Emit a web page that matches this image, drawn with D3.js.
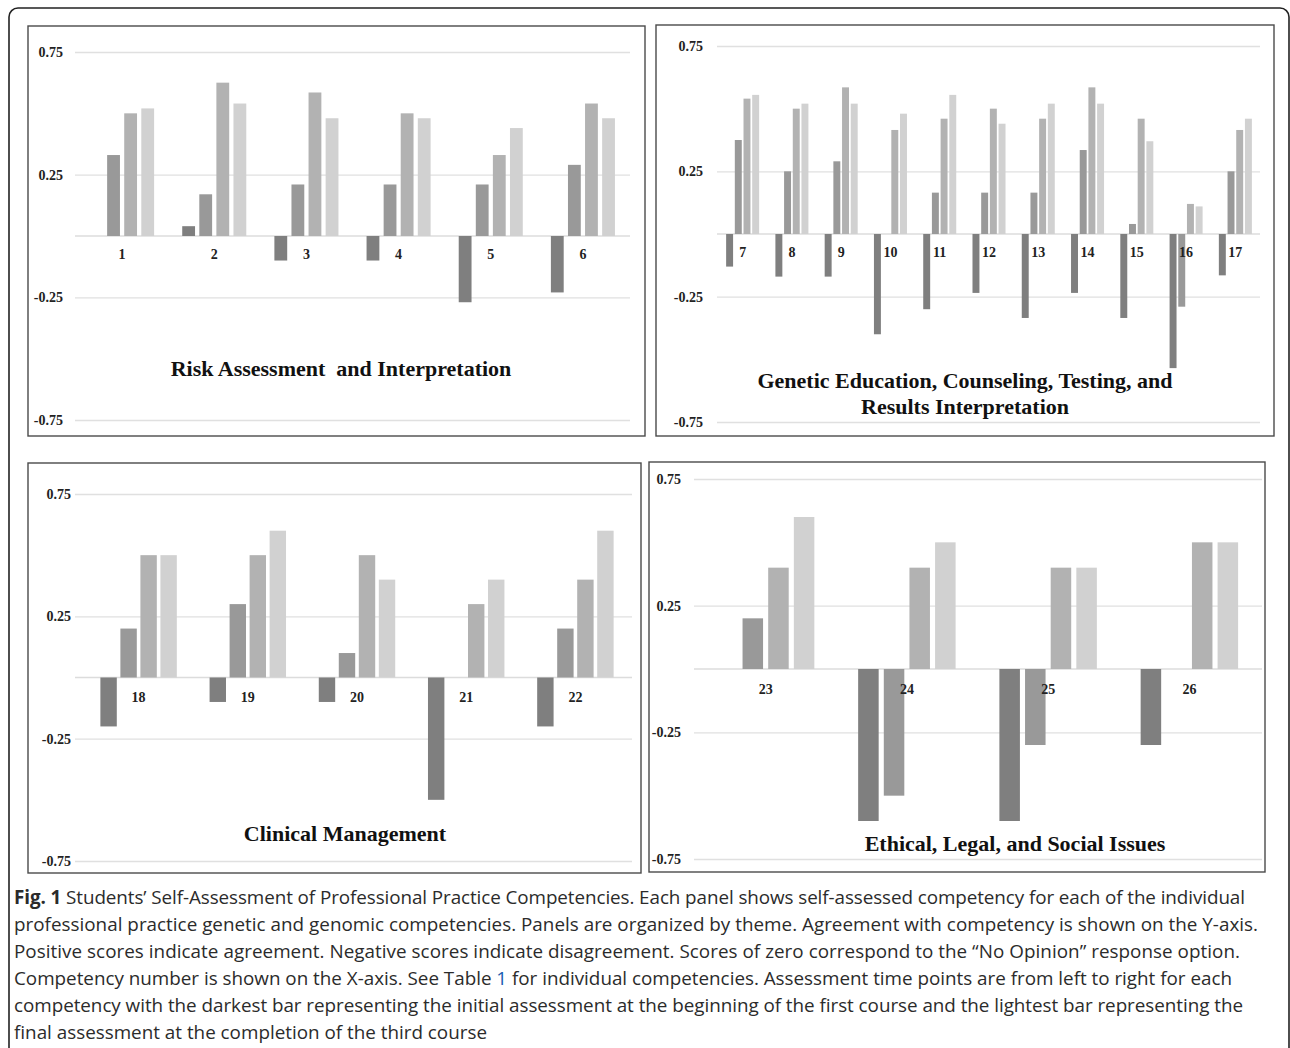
<!DOCTYPE html>
<html>
<head>
<meta charset="utf-8">
<script src="https://cdn.jsdelivr.net/npm/d3@7"></script>
<style>
  html, body { margin: 0; padding: 0; background: #fff; }
  svg { display: block; }
</style>
</head>
<body>
<svg id="chart" width="1290" height="1048"></svg>
<script>
// ---------------- DATA ----------------
const seriesNames = ["Initial", "Time 2", "Time 3", "Final"];
const tickValues = [0.75, 0.25, -0.25, -0.75];
const tickLabels = ["0.75", "0.25", "-0.25", "-0.75"];

const riskCats = ["1", "2", "3", "4", "5", "6"];
const riskT1 = [0, 0.04, -0.10, -0.10, -0.27, -0.23];
const riskT2 = [0.33, 0.17, 0.21, 0.21, 0.21, 0.29];
const riskT3 = [0.50, 0.625, 0.585, 0.50, 0.33, 0.54];
const riskT4 = [0.52, 0.54, 0.48, 0.48, 0.44, 0.48];

const geneticCats = ["7", "8", "9", "10", "11", "12", "13", "14", "15", "16", "17"];
const geneticT1 = [-0.13, -0.17, -0.17, -0.40, -0.30, -0.235, -0.335, -0.235, -0.335, -0.535, -0.165];
const geneticT2 = [0.375, 0.25, 0.29, 0, 0.165, 0.165, 0.165, 0.335, 0.04, -0.29, 0.25];
const geneticT3 = [0.54, 0.50, 0.585, 0.415, 0.46, 0.50, 0.46, 0.585, 0.46, 0.12, 0.415];
const geneticT4 = [0.555, 0.52, 0.52, 0.48, 0.555, 0.44, 0.52, 0.52, 0.37, 0.11, 0.46];

const clinicalCats = ["18", "19", "20", "21", "22"];
const clinicalT1 = [-0.2, -0.1, -0.1, -0.5, -0.2];
const clinicalT2 = [0.2, 0.3, 0.1, 0, 0.2];
const clinicalT3 = [0.5, 0.5, 0.5, 0.3, 0.4];
const clinicalT4 = [0.5, 0.6, 0.4, 0.4, 0.6];

const elsiCats = ["23", "24", "25", "26"];
const elsiT1 = [0, -0.6, -0.6, -0.3];
const elsiT2 = [0.2, -0.5, -0.3, 0];
const elsiT3 = [0.4, 0.4, 0.4, 0.5];
const elsiT4 = [0.6, 0.5, 0.4, 0.5];

const panelTitles = [
  ["Risk Assessment  and Interpretation"],
  ["Genetic Education, Counseling, Testing, and", "Results Interpretation"],
  ["Clinical Management"],
  ["Ethical, Legal, and Social Issues"]
];

const captionLines = [
  [{t: "Fig. 1", b: true}, {t: " Students\u2019 Self-Assessment of Professional Practice Competencies. Each panel shows self-assessed competency for each of the individual"}],
  [{t: "professional practice genetic and genomic competencies. Panels are organized by theme. Agreement with competency is shown on the Y-axis."}],
  [{t: "Positive scores indicate agreement. Negative scores indicate disagreement. Scores of zero correspond to the \u201CNo Opinion\u201D response option."}],
  [{t: "Competency number is shown on the X-axis. See Table "}, {t: "1", link: true}, {t: " for individual competencies. Assessment time points are from left to right for each"}],
  [{t: "competency with the darkest bar representing the initial assessment at the beginning of the first course and the lightest bar representing the"}],
  [{t: "final assessment at the completion of the third course"}]
];

// ---------------- LAYOUT ----------------
const barColors = ["#7f7f7f", "#999999", "#b2b2b2", "#d1d1d1"];
const serif = "'Liberation Serif', 'Times New Roman', serif";
const captionWidths = [1231, 1244, 1226, 1218, 1229, null];

const panels = [
  { cats: riskCats, series: [riskT1, riskT2, riskT3, riskT4], title: panelTitles[0],
    box: [28, 26, 645, 436], yTop: 52, yBot: 420, xr: [76, 629], grid: [75, 630], tickRight: 63,
    outerPad: 0.305, innerPad: 0.25, labelDy: 23, titleX: 341, titleY: 376 },
  { cats: geneticCats, series: [geneticT1, geneticT2, geneticT3, geneticT4], title: panelTitles[1],
    box: [656, 25, 1274, 436], yTop: 46, yBot: 422, xr: [718, 1260], grid: [717, 1260], tickRight: 703,
    outerPad: 0.33, innerPad: 0.2, labelDy: 23, titleX: 965, titleY: 388 },
  { cats: clinicalCats, series: [clinicalT1, clinicalT2, clinicalT3, clinicalT4], title: panelTitles[2],
    box: [28, 463, 641, 873], yTop: 494, yBot: 861, xr: [84, 630], grid: [75, 632], tickRight: 71,
    outerPad: 0.30, innerPad: 0.18, labelDy: 24, titleX: 345, titleY: 841 },
  { cats: elsiCats, series: [elsiT1, elsiT2, elsiT3, elsiT4], title: panelTitles[3],
    box: [649, 462, 1265, 872], yTop: 479, yBot: 859, xr: [695, 1260], grid: [694, 1262], tickRight: 681,
    outerPad: 0.31, innerPad: 0.2, labelDy: 25, titleX: 1015, titleY: 851 }
];

const svg = d3.select("#chart");

// outer rounded frame
svg.append("rect")
  .attr("x", 9).attr("y", 8).attr("width", 1280).attr("height", 1080)
  .attr("rx", 9).attr("ry", 9)
  .attr("fill", "none").attr("stroke", "#222").attr("stroke-width", 1.6);

panels.forEach((p, pi) => {
  const g = svg.append("g");
  const [bx0, by0, bx1, by1] = p.box;
  g.append("rect")
    .attr("x", bx0).attr("y", by0).attr("width", bx1 - bx0).attr("height", by1 - by0)
    .attr("fill", "#fff").attr("stroke", "#4a4a4a").attr("stroke-width", 1.4);

  const y = d3.scaleLinear().domain([-0.75, 0.75]).range([p.yBot, p.yTop]);
  const x0 = d3.scaleBand().domain(p.cats).range(p.xr)
    .paddingInner(p.outerPad).paddingOuter(p.outerPad / 2);
  const x1 = d3.scaleBand().domain(d3.range(4)).range([0, x0.bandwidth()])
    .paddingInner(p.innerPad).paddingOuter(0);

  // gridlines + tick labels via axis
  const axis = d3.axisLeft(y).tickValues(tickValues)
    .tickFormat((d, i) => tickLabels[i])
    .tickSize(-(p.grid[1] - p.grid[0]))
    .tickPadding(p.grid[0] - p.tickRight);
  const ag = g.append("g").attr("transform", `translate(${p.grid[0]},0)`).call(axis);
  ag.select(".domain").remove();
  ag.selectAll(".tick line").attr("stroke", "#e0e0e0").attr("stroke-width", 1.3);
  ag.selectAll(".tick text")
    .attr("font-family", serif).attr("font-weight", "bold").attr("font-size", 14)
    .attr("fill", "#222");

  // zero line
  g.append("line")
    .attr("x1", p.grid[0]).attr("x2", p.grid[1])
    .attr("y1", y(0)).attr("y2", y(0))
    .attr("stroke", "#dcdcdc").attr("stroke-width", 1.4);

  // bars
  const rows = [];
  p.cats.forEach((c, ci) => {
    p.series.forEach((s, si) => rows.push({ cat: c, si, v: s[ci] }));
  });
  g.append("g").selectAll("rect").data(rows).join("rect")
    .attr("x", d => x0(d.cat) + x1(d.si))
    .attr("width", x1.bandwidth())
    .attr("y", d => y(Math.max(0, d.v)))
    .attr("height", d => Math.abs(y(d.v) - y(0)))
    .attr("fill", d => barColors[d.si]);

  // category labels
  g.append("g").selectAll("text").data(p.cats).join("text")
    .attr("x", d => x0(d) + x0.bandwidth() / 2)
    .attr("y", y(0) + p.labelDy)
    .attr("text-anchor", "middle")
    .attr("font-family", serif).attr("font-weight", "bold").attr("font-size", 14)
    .attr("fill", "#222")
    .text(d => d);

  // title
  const tt = g.append("text")
    .attr("x", p.titleX).attr("y", p.titleY)
    .attr("text-anchor", "middle")
    .attr("font-family", serif).attr("font-weight", "bold").attr("font-size", 22)
    .attr("fill", "#111")
    .style("white-space", "pre");
  p.title.forEach((line, li) => {
    tt.append("tspan").attr("x", p.titleX).attr("dy", li === 0 ? 0 : 26).text(line);
  });
});

// caption
const cap = svg.append("g");
const capTexts = [];
captionLines.forEach((parts, li) => {
  const t = cap.append("text")
    .attr("x", 14).attr("y", 904 + li * 27)
    .attr("font-family", "'Open Sans', 'Noto Sans', sans-serif")
    .attr("font-size", 17)
    .attr("fill", "#2b2b2b");
  parts.forEach(pt => {
    t.append("tspan")
      .attr("font-weight", pt.b ? "bold" : null)
      .attr("fill", pt.link ? "#1a5cb0" : null)
      .text(pt.t);
  });
  capTexts.push(t);
});
// fit caption font size on the plain lines, then trim spacing to each line's width
let ratio = 0;
[1, 2, 3, 4].forEach(i => { ratio += captionWidths[i] / capTexts[i].node().getComputedTextLength(); });
ratio /= 4;
const fs = 17 * ratio;
cap.selectAll("text").attr("font-size", fs.toFixed(2));
capTexts.forEach((t, i) => {
  if (captionWidths[i]) t.attr("textLength", captionWidths[i]).attr("lengthAdjust", "spacing");
});
</script>
</body>
</html>
